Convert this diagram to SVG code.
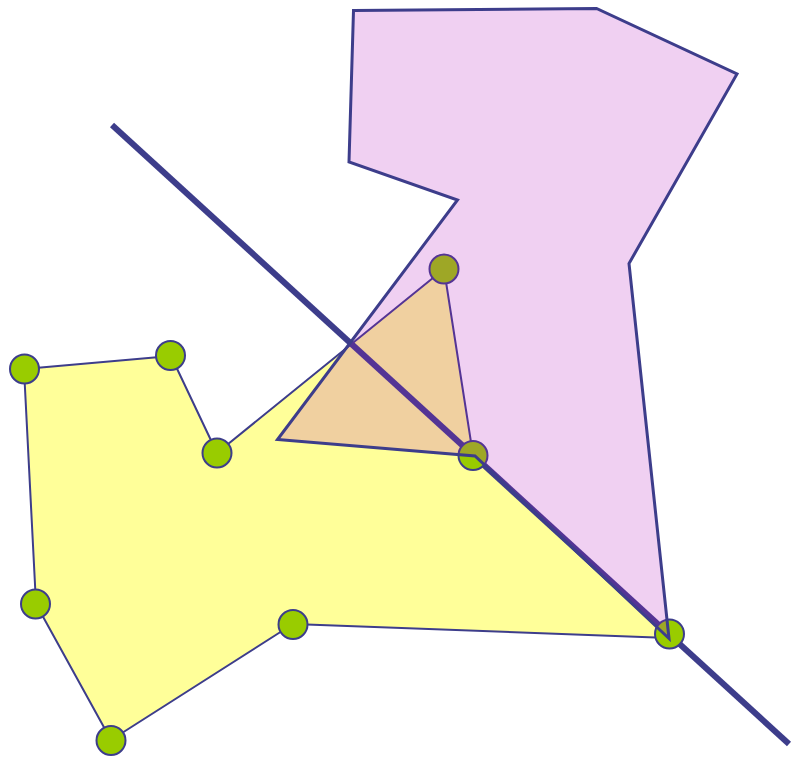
<svg xmlns="http://www.w3.org/2000/svg" width="794" height="759" viewBox="0 0 794 759">
<style>
.yellow{fill:#ffff99;stroke:#3d3d8b;stroke-width:2;stroke-linejoin:round}
.pink{fill:#b414be;fill-opacity:0.2;stroke:#3d3d8b;stroke-width:3;stroke-linejoin:miter}
.pt{fill:#99cc00;stroke:#3d3d8b;stroke-width:2}
.cut{stroke:#3d3d8b;stroke-width:6;fill:none}
</style>
<g id="polygon-yellow">
<polygon class="yellow" points="24,369 171,356 217,453 444,269 473,455 669,638 293,624 111,740 36,604"/>
</g>
<g id="connectors">
<line class="cut" x1="112" y1="125" x2="789" y2="744"/>
</g>
<g id="vertices">
<circle id="v1" class="pt" cx="24.5" cy="369" r="14.5"/>
<circle id="v2" class="pt" cx="170.5" cy="355.5" r="14.5"/>
<circle id="v3" class="pt" cx="217" cy="453" r="14.5"/>
<circle id="v4" class="pt" cx="444" cy="269" r="14.5"/>
<circle id="v5" class="pt" cx="473" cy="455.5" r="14.5"/>
<circle id="v6" class="pt" cx="669.5" cy="634" r="14.5"/>
<circle id="v7" class="pt" cx="293" cy="624.5" r="14.5"/>
<circle id="v8" class="pt" cx="111" cy="740.5" r="14.5"/>
<circle id="v9" class="pt" cx="35.5" cy="604" r="14.5"/>
</g>
<g id="polygon-pink">
<polygon class="pink" points="353.5,10.5 596.5,8.5 737,74 629,263.5 669,638.5 475,456 277.5,439.5 457.5,200 349,162"/>
</g>
</svg>
